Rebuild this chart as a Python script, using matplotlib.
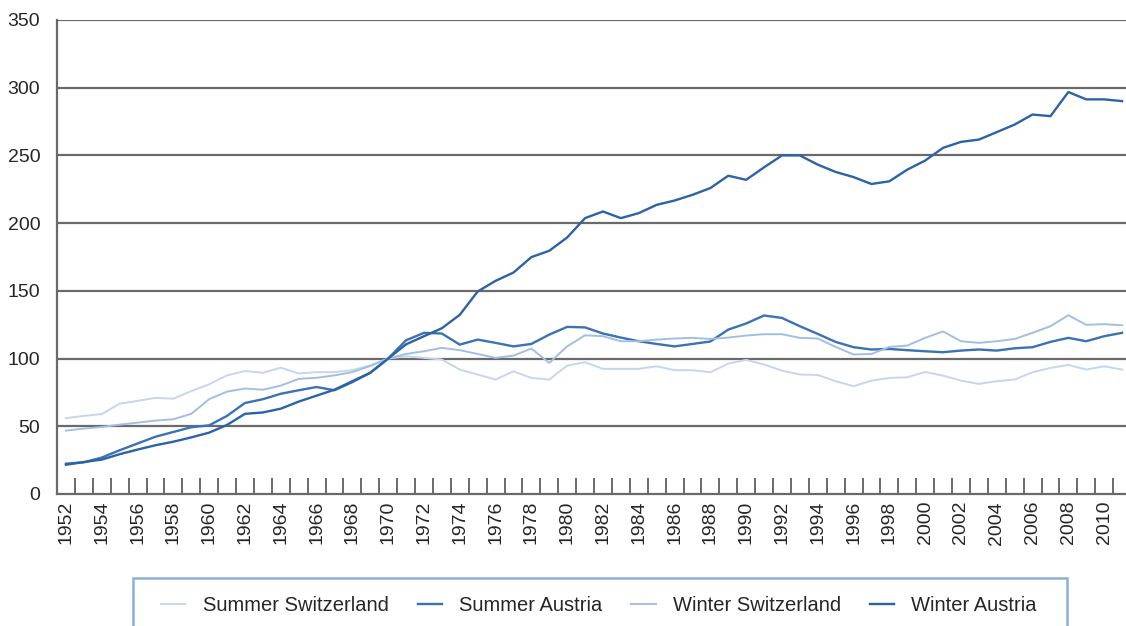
import numpy as np
import matplotlib
matplotlib.use('Agg')  # no display
import matplotlib.pyplot as plt
from matplotlib.patches import Rectangle

plt.rcParams['font.family'] = ['Liberation Sans', 'DejaVu Sans']

years = list(range(1952, 2012))

summer_ch = [56, 57.7, 59, 66.7, 68.7, 71, 70.4, 76, 81, 87.6, 90.8, 89.5, 93.3, 89, 90, 90, 91.5, 95, 100,
             101.7, 100.5, 99.3, 91.9, 88.2, 84.5, 90.6, 85.7, 84.5, 94.8, 97.3, 92.4, 92.4, 92.4, 94.3, 91.4, 91.4, 89.9, 96.3, 99,
             95.6, 91.1, 88.2, 87.9, 83.3, 79.6, 83.7, 85.7, 86.2, 90.1, 87.4, 83.7, 81.3, 83.3, 84.5, 89.9, 93.1, 95.3, 91.9, 94.3, 91.9]

summer_at = [22.4, 23.4, 26.9, 32.3, 37.3, 42.3, 45.8, 49.3, 50.7, 57.7, 67.2, 70, 74, 76.6, 79, 76.6, 82.6, 89.5, 100,
             113.5, 119, 118.5, 110.3, 114, 111.6, 109, 110.8, 117.7, 123.4, 123, 118.5, 115.5, 112.8, 110.8, 109, 110.8, 112.6, 121.4, 125.9,
             131.8, 130, 123.9, 118.2, 112.3, 108.4, 106.7, 107.1, 106.2, 105.4, 104.7, 105.9, 106.7, 105.9, 107.6, 108.4, 112.3, 115.3, 112.8, 116.5, 119]

winter_ch = [46.8, 48.3, 49.5, 51.2, 52.7, 54.2, 55.2, 59.2, 70, 75.6, 77.9, 77, 80, 85, 85.8, 87.6, 90, 94.5, 100,
             103.4, 105.4, 107.9, 106.2, 103.4, 100.5, 102.2, 107.4, 96.8, 109, 117.2, 116.5, 112.8, 112.8, 114, 114.8, 115.3, 114.5, 115.5, 117,
             118, 118, 115.3, 114.8, 108.6, 103, 103.4, 108.6, 109.6, 115.3, 120, 112.8, 111.6, 112.8, 114.5, 119, 123.9, 132, 124.9, 125.4, 124.6]

winter_at = [21.6, 23.6, 25.4, 29.4, 32.8, 36, 38.6, 41.8, 45.3, 51, 59.2, 60.2, 63, 68.2, 72.6, 77, 83.3, 89.5, 100,
             110.5, 116.5, 122.4, 132.3, 149.5, 157.4, 163.5, 174.9, 179.6, 189.4, 203.7, 208.6, 203.7, 207.4, 213.5, 216.7, 220.9, 225.9, 235, 232,
             241.2, 250, 250, 243.2, 237.8, 234, 228.9, 230.9, 239.5, 246.2, 255.6, 260, 261.7, 267.2, 272.8, 280.2, 279, 296.8, 291.4, 291.4, 290.1]

series_names = ['Summer Switzerland', 'Summer Austria', 'Winter Switzerland', 'Winter Austria']
colors = ['#c6d6ec', '#3b72b4', '#a2bfe2', '#2c63a7']
widths = [1.4, 1.7, 1.4, 1.7]

W, H = 1126, 626
fig = plt.figure(figsize=(W / 100, H / 100), dpi=100)
# axes in pixel terms: left 57, right 1131 (runs slightly past the edge), top 20, bottom 494
ax = fig.add_axes([57 / W, (H - 494) / H, (1131 - 57) / W, (494 - 20) / H])

grid_col = '#6a6a6a'
text_col = '#262626'

x = np.arange(len(years))
for vals, name, c, lw in zip([summer_ch, summer_at, winter_ch, winter_at], series_names, colors, widths):
    ax.plot(x, vals, color=c, lw=lw, label=name, zorder=3)

ax.set_xlim(-0.5, len(years) - 0.5)
ax.set_ylim(0, 350)
ax.set_yticks(range(0, 351, 50))
for v in range(50, 351, 50):
    ax.axhline(v, color=grid_col, lw=1.6, zorder=1)

for s in ['top', 'right']:
    ax.spines[s].set_visible(False)
for s in ['left', 'bottom']:
    ax.spines[s].set_color(grid_col)
    ax.spines[s].set_linewidth(1.6)

# labels every other year, ticks drawn between years
ax.set_xticks(x[::2])
ax.set_xticklabels([str(y) for y in years[::2]], rotation=90, fontsize=14, color=text_col)
ax.tick_params(axis='x', length=0, pad=5)
ax.set_xticks(x[:-1] + 0.5, minor=True)
ax.tick_params(axis='x', which='minor', direction='in', length=11.5, width=1.4, color=grid_col)
ax.tick_params(axis='y', length=0, pad=12, labelsize=14, labelcolor=text_col)

# legend box (cut off at the bottom of the image)
fig.patches.append(Rectangle((133 / W, -0.1), (1067 - 133) / W, 0.1 + (H - 578) / H,
                             transform=fig.transFigure, fill=False, edgecolor='#8cb0d8', lw=1.8))
fig.legend(loc='center', bbox_to_anchor=(599 / W, 1 - 605.5 / H), ncol=4, frameon=False,
           fontsize=14.5, handlelength=1.2, handletextpad=0.85, columnspacing=1.45,
           labelcolor=text_col)

fig.savefig('out.png', dpi=100)
